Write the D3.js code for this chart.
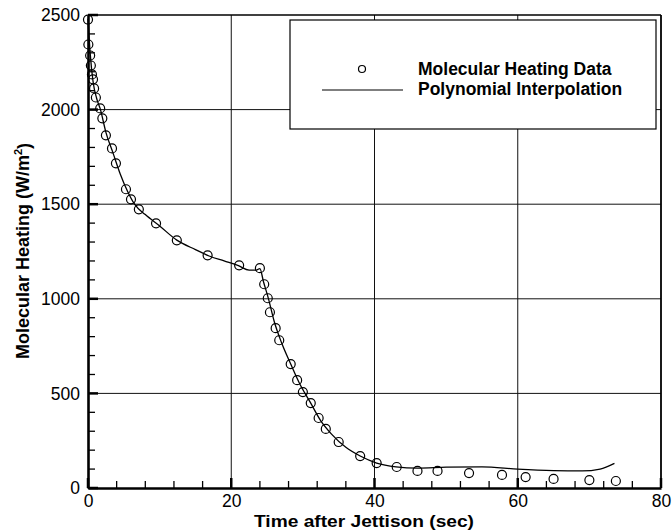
<!DOCTYPE html>
<html>
<head>
<meta charset="utf-8">
<script src="https://cdn.jsdelivr.net/npm/d3@7"></script>
<style>
  html, body { margin: 0; padding: 0; background: #fff; }
  svg { display: block; }
  text { font-family: "Liberation Sans", Arial, Helvetica, sans-serif; fill: #000; }
</style>
</head>
<body>
<svg id="chart" width="672" height="531"></svg>
<script>
// ---- data ----
const timeData = [0, 0.05, 0.3, 0.4, 0.55, 0.7, 0.85, 1.1, 1.7, 2.0, 2.5, 3.35, 3.9, 5.3, 6.0, 7.1, 9.5, 12.4, 16.7, 21.1,
                  24.0, 24.6, 25.1, 25.4, 26.2, 26.7, 28.3, 29.2, 30.0, 31.1, 32.2, 33.2, 35.0, 38.0, 40.3, 43.1, 46.0,
                  48.8, 53.2, 57.8, 61.1, 65.0, 70.0, 73.7];
const heatData = [2476, 2344, 2286, 2233, 2186, 2160, 2112, 2064, 2006, 1954, 1864, 1795, 1716, 1579, 1526, 1473, 1399, 1309, 1230, 1177,
                  1162, 1077, 1003, 929, 845, 781, 655, 570, 507, 449, 370, 312, 243, 169, 132, 111, 90,
                  90, 79, 69, 58, 48, 42, 37];

const curveTime = [0, 0.3, 0.7, 1.2, 1.7, 2.5, 3.5, 4.5, 5.5, 6.5, 8, 10, 12.4, 15, 17, 19, 21, 22.5, 23.5, 24,
                   24.5, 25.2, 26, 27, 28.3, 29.5, 31, 32.5, 34, 36, 38, 40.3, 43, 46, 50, 55, 60, 65, 69, 71.5, 73.5];
const curveHeat = [2480, 2300, 2150, 2060, 2005, 1880, 1770, 1660, 1570, 1500, 1445, 1385, 1310, 1260, 1225, 1200, 1175, 1152, 1152, 1160,
                   1090, 1000, 880, 770, 655, 555, 455, 355, 285, 215, 169, 132, 112, 105, 110, 112, 100, 92, 90, 100, 130];

const xTicks = [0, 20, 40, 60, 80];
const yTicks = [0, 500, 1000, 1500, 2000, 2500];
const xMinor = d3.range(0, 81, 4);
const yMinor = d3.range(0, 2501, 100);

const seriesNames = ["Molecular Heating Data", "Polynomial Interpolation"];
const xTitle = "Time after Jettison (sec)";

// ---- layout ----
const svg = d3.select("#chart");
const L = 88, R = 661, T = 15, B = 488;
const x = d3.scaleLinear().domain([0, 80]).range([L, R]);
const y = d3.scaleLinear().domain([0, 2500]).range([B, T]);

// grid
const grid = svg.append("g").attr("stroke", "#111").attr("stroke-width", 1);
grid.selectAll("line.vx").data(xTicks.filter(d => d > 0 && d < 80)).join("line")
  .attr("x1", d => x(d)).attr("x2", d => x(d)).attr("y1", T).attr("y2", B);
grid.selectAll("line.hy").data(yTicks.filter(d => d > 0 && d < 2500)).join("line")
  .attr("x1", L).attr("x2", R).attr("y1", d => y(d)).attr("y2", d => y(d));

// minor ticks (inward)
const ticks = svg.append("g").attr("stroke", "#000");
ticks.selectAll("line.mx").data(xMinor).join("line")
  .attr("x1", d => x(d)).attr("x2", d => x(d)).attr("y1", B)
  .attr("stroke-width", d => xTicks.includes(d) ? 2.5 : 1.3)
  .attr("y2", d => xTicks.includes(d) ? B - 10 : B - 7);
ticks.selectAll("line.my").data(yMinor).join("line")
  .attr("y1", d => y(d)).attr("y2", d => y(d)).attr("x1", L)
  .attr("stroke-width", d => yTicks.includes(d) ? 2.5 : 1.3)
  .attr("x2", d => yTicks.includes(d) ? L + 10 : L + 7);

// frame
svg.append("line").attr("x1", L).attr("x2", R).attr("y1", T).attr("y2", T).attr("stroke", "#000").attr("stroke-width", 1.5);
svg.append("line").attr("x1", R).attr("x2", R).attr("y1", T).attr("y2", B).attr("stroke", "#000").attr("stroke-width", 1.8);

// axes (labels)
const xAxis = svg.append("g").attr("transform", `translate(0,${B})`)
  .call(d3.axisBottom(x).tickValues(xTicks).tickSize(0).tickPadding(3).tickFormat(d3.format("d")));
const yAxis = svg.append("g").attr("transform", `translate(${L},0)`)
  .call(d3.axisLeft(y).tickValues(yTicks).tickSize(0).tickPadding(8).tickFormat(d3.format("d")));
[xAxis, yAxis].forEach(a => {
  a.select(".domain").attr("stroke", "#000").attr("stroke-width", 2.6);
  a.selectAll("text").attr("font-size", 17.5).attr("font-family", "Liberation Sans, Arial, sans-serif").attr("fill", "#000");
});
xAxis.selectAll("text").attr("dy", "0.93em");

// curve
const line = d3.line().x(d => x(d[0])).y(d => y(d[1])).curve(d3.curveMonotoneX);
svg.append("path").datum(curveTime.map((t, i) => [t, curveHeat[i]]))
  .attr("d", line).attr("fill", "none").attr("stroke", "#000").attr("stroke-width", 1.3);

// data circles
svg.append("g").selectAll("circle").data(timeData.map((t, i) => [t, heatData[i]])).join("circle")
  .attr("cx", d => x(d[0])).attr("cy", d => y(d[1])).attr("r", 4.5)
  .attr("fill", "none").attr("stroke", "#000").attr("stroke-width", 1.2);

// legend
const lg = svg.append("g");
lg.append("rect").attr("x", 290).attr("y", 20).attr("width", 366).attr("height", 109)
  .attr("fill", "#fff").attr("stroke", "#000").attr("stroke-width", 1.2);
lg.append("circle").attr("cx", 362).attr("cy", 69).attr("r", 3.5).attr("fill", "none").attr("stroke", "#000").attr("stroke-width", 1.2);
lg.append("line").attr("x1", 322).attr("x2", 403).attr("y1", 90).attr("y2", 90).attr("stroke", "#000").attr("stroke-width", 1.2);
lg.selectAll("text").data(seriesNames).join("text")
  .attr("x", 418).attr("y", (d, i) => 75 + i * 19.5)
  .attr("font-size", 17.5).attr("font-weight", "bold").text(d => d);

// axis titles
svg.append("text").attr("x", 364).attr("y", 527).attr("text-anchor", "middle")
  .attr("font-size", 17).attr("font-weight", "bold")
  .attr("textLength", 220).attr("lengthAdjust", "spacingAndGlyphs").text(xTitle);
const yt = svg.append("text").attr("transform", `translate(29,251) rotate(-90)`).attr("text-anchor", "middle")
  .attr("font-size", 18).attr("font-weight", "bold");
yt.append("tspan").text("Molecular Heating (W/m");
yt.append("tspan").attr("font-size", 11).attr("dy", "-0.6em").text("2");
yt.append("tspan").attr("dy", "0.4em").text(")");
</script>
</body>
</html>
